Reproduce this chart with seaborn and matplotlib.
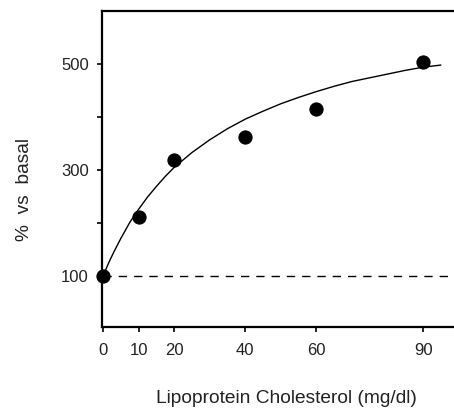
import numpy as np
import pandas as pd
import matplotlib
matplotlib.use('Agg')
import matplotlib.pyplot as plt
import seaborn as sns

# %% data
chol = [0, 10, 20, 40, 60, 90]
pct_basal = [100, 212, 319, 362, 416, 504]

# fitted curve, read at points along the line
curve_x = [0, 0.5, 1, 2, 3, 5, 7.5, 10, 12.5, 15, 17.5, 20, 25, 30, 35, 40, 45,
           50, 55, 60, 65, 70, 75, 80, 85, 90, 95]
curve_y = [100, 108, 116, 131, 145, 171, 201, 226, 249, 269, 288, 305, 333, 357,
           378, 396, 411, 425, 437, 448, 458, 467, 474, 481, 488, 494, 498]

basal_x = [0, 99]
basal_y = [100, 100]

x_ticks = [0, 10, 20, 40, 60, 90]
y_ticks = [100, 200, 300, 400, 500]
y_labels = ['100', '', '300', '', '500']

# %% plot
sns.set_style('ticks')
plt.rcParams['font.family'] = ['Liberation Sans', 'DejaVu Sans']

fig = plt.figure(figsize=(4.54, 4.09), dpi=100)
ax = fig.add_axes([0.2247, 0.2005, 0.7753, 0.7726])

pts = pd.DataFrame({'chol': chol, 'pct': pct_basal})
fit = pd.DataFrame({'x': curve_x, 'y': curve_y})

sns.lineplot(x=basal_x, y=basal_y, ax=ax, color='black', lw=1.0,
             linestyle=(0, (6, 5)))
sns.lineplot(data=fit, x='x', y='y', ax=ax, color='black', lw=1.0)
sns.scatterplot(data=pts, x='chol', y='pct', ax=ax, color='black', s=90,
                edgecolor='black', zorder=5, clip_on=False)

ax.set_xlim(-0.3, 98.7)
ax.set_ylim(3.8, 600)
ax.set_xticks(x_ticks)
ax.set_yticks(y_ticks)
ax.set_yticklabels(y_labels)
ax.tick_params(axis='both', direction='out', length=3.5, width=1.2,
               labelsize=12, colors='black', labelcolor='#222222', pad=6)
ax.tick_params(axis='x', pad=8)

for side in ['left', 'bottom', 'top']:
    ax.spines[side].set_linewidth(1.6)
    ax.spines[side].set_color('black')
ax.spines['right'].set_visible(False)

ax.set_xlabel('Lipoprotein Cholesterol (mg/dl)', fontsize=13.8, color='#222222',
              va='center', ha='center')
ax.set_ylabel('%  vs  basal', fontsize=13.8, color='#222222',
              va='center', ha='center')
ax.xaxis.set_label_coords(0.524, -0.225)
ax.yaxis.set_label_coords(-0.219, 0.434)

plt.savefig('out.png', dpi=100)
